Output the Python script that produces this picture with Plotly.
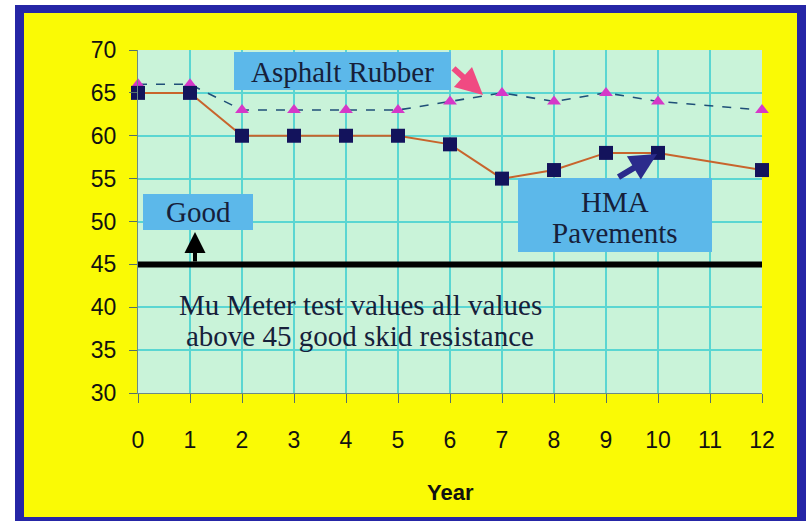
import plotly.graph_objects as go

# Skid resistance (Mu Meter) by year of service
years = [0, 1, 2, 3, 4, 5, 6, 7, 8, 9, 10, 12]
asphalt_rubber = [66, 66, 63, 63, 63, 63, 64, 65, 64, 65, 64, 63]
hma_pavements = [65, 65, 60, 60, 60, 60, 59, 55, 56, 58, 58, 56]
year_ticks = list(range(0, 13))
value_ticks = [30, 35, 40, 45, 50, 55, 60, 65, 70]
good_threshold = 45

W, H = 806, 521
L, R, T, B = 138, 44, 50, 128
PW, PH = W - L - R, H - T - B


def px(x):
    return (x - L) / PW


def py(y):
    return (H - B - y) / PH


fig = go.Figure()

fig.add_trace(go.Scatter(
    x=years, y=asphalt_rubber, mode="lines+markers", name="Asphalt Rubber",
    line=dict(color="#1f4f78", width=1.6, dash="dash"),
    marker=dict(symbol="triangle-up", size=12, color="#d638c8"),
    cliponaxis=False,
))
fig.add_trace(go.Scatter(
    x=years, y=hma_pavements, mode="lines+markers", name="HMA Pavements",
    line=dict(color="#c8642c", width=2),
    marker=dict(symbol="square", size=14, color="#13135c"),
    cliponaxis=False,
))

shapes = [
    # outer frame, yellow panel, plot area fill
    dict(type="rect", xref="paper", yref="paper", layer="below",
         x0=px(15), x1=px(830), y0=py(540), y1=py(5),
         fillcolor="#2626a6", line=dict(width=0)),
    dict(type="rect", xref="paper", yref="paper", layer="below",
         x0=px(24), x1=px(797), y0=py(517), y1=py(13),
         fillcolor="#fafa05", line=dict(width=0)),
    dict(type="rect", xref="paper", yref="paper", layer="below",
         x0=0, x1=1, y0=0, y1=1,
         fillcolor="#c9f3d9", line=dict(width=0)),
    # threshold line
    dict(type="line", xref="x", yref="y", x0=0, x1=12,
         y0=good_threshold, y1=good_threshold,
         line=dict(color="black", width=6)),
    # label boxes
    dict(type="rect", xref="paper", yref="paper", layer="above",
         x0=px(234), x1=px(451), y0=py(90), y1=py(52),
         fillcolor="#5cb8ea", line=dict(width=0)),
    dict(type="rect", xref="paper", yref="paper", layer="above",
         x0=px(518), x1=px(712), y0=py(252), y1=py(178),
         fillcolor="#5cb8ea", line=dict(width=0)),
    dict(type="rect", xref="paper", yref="paper", layer="above",
         x0=px(143), x1=px(253), y0=py(230), y1=py(194),
         fillcolor="#5cb8ea", line=dict(width=0)),
]

serif = dict(family="Liberation Serif, Times New Roman, serif", size=29, color="#16203a")


def label(text, x, y, font=serif):
    return dict(text=text, x=px(x), y=py(y), xref="paper", yref="paper",
                xanchor="center", yanchor="middle", showarrow=False, font=font)


def arrow(x, y, ax, ay, width, size, color):
    return dict(text="", x=px(x), y=py(y), xref="paper", yref="paper",
                showarrow=True, ax=ax, ay=ay, arrowhead=2, arrowsize=size,
                arrowwidth=width, arrowcolor=color)


annotations = [
    label("Asphalt Rubber", 342, 72),
    label("HMA", 615, 202),
    label("Pavements", 615, 233),
    label("Good", 198, 212),
    label("Mu Meter test values all values", 360, 305),
    label("above 45 good skid resistance", 360, 336),
    label("<b>Year</b>", 450, 492,
          dict(family="Liberation Sans, Arial, sans-serif", size=22, color="#111111")),
    arrow(483, 95, -31, -28, 6, 0.9, "#f04a82"),
    arrow(657, 154, -40, 24, 6, 0.9, "#2b2b8c"),
    arrow(195, 232, 0, 31, 4, 1.05, "#000000"),
]

tick_font = dict(family="Liberation Sans, Arial, sans-serif", size=23, color="#111111")

fig.update_layout(
    width=W, height=H,
    margin=dict(l=L, r=R, t=T, b=B),
    paper_bgcolor="white",
    plot_bgcolor="rgba(0,0,0,0)",
    showlegend=False,
    shapes=shapes,
    annotations=annotations,
    xaxis=dict(
        range=[0, 12], tickvals=year_ticks, ticktext=[str(v) for v in year_ticks],
        showgrid=True, gridcolor="#5ad6d2", gridwidth=1.5,
        zeroline=False, showline=True, linecolor="#6b8a86", linewidth=1,
        ticks="outside", ticklen=9, tickcolor="#55706c",
        ticklabelstandoff=17, tickfont=tick_font,
    ),
    yaxis=dict(
        range=[30, 70], tickvals=value_ticks,
        showgrid=True, gridcolor="#5ad6d2", gridwidth=1.5,
        zeroline=False, showline=True, linecolor="#6b8a86", linewidth=1,
        ticks="outside", ticklen=8, tickcolor="#55706c",
        ticklabelstandoff=8, tickfont=tick_font,
    ),
)

fig.write_html("out.html")
